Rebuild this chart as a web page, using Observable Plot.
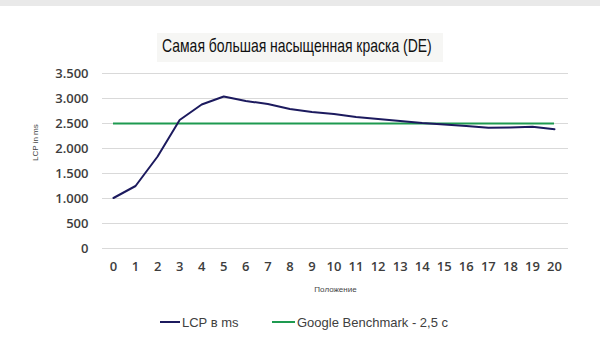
<!DOCTYPE html>
<html>
<head>
<meta charset="utf-8">
<script src="https://cdn.jsdelivr.net/npm/d3@7"></script>
<script src="https://cdn.jsdelivr.net/npm/@observablehq/plot@0.6"></script>
<style>
  html, body { margin: 0; padding: 0; background: #fff; }
  #wrap { position: relative; width: 600px; height: 357px; overflow: hidden; background: #fff; }
  #topband { position: absolute; left: 0; top: 0; width: 600px; height: 6px; background: #e9e9e9; }
  #title { position: absolute; left: 157px; top: 33px; width: 286px; height: 29px; background: #f6f6f4; pointer-events: none; }
  #title span { position: absolute; left: 5px; top: 2px; white-space: nowrap; font-family: "Liberation Sans", Arial, sans-serif; font-size: 19px; color: #111; transform: scaleX(0.735); transform-origin: 0 0; }
  #chart { position: absolute; left: 0; top: 0; }
  #legend { position: absolute; left: 0; top: 313px; width: 600px; font-family: "Liberation Sans", Arial, sans-serif; font-size: 13px; color: #404040; }
  .item { position: absolute; top: 0; white-space: nowrap; display: flex; align-items: center; height: 18px; }
  .sw { display: inline-block; height: 2px; margin-right: 2px; }
</style>
</head>
<body>
<div id="wrap">
  <div id="topband"></div>
  <div id="chart"></div>
  <div id="title"><span></span></div>
  <div id="legend"></div>
</div>
<script>
const chartTitle = "Самая большая насыщенная краска (DE)";
const xLabel = "Положение";
const yLabel = "LCP in ms";
const positions = [0,1,2,3,4,5,6,7,8,9,10,11,12,13,14,15,16,17,18,19,20];
const lcp = [1010,1250,1840,2570,2880,3040,2950,2890,2790,2730,2690,2630,2590,2550,2510,2480,2450,2415,2420,2435,2385];
const benchmark = 2500;
const yTicks = [0,500,1000,1500,2000,2500,3000,3500];
const seriesNames = ["LCP в ms", "Google Benchmark - 2,5 c"];
const seriesColors = ["#1c1a5e", "#1e9a50"];

document.querySelector("#title span").textContent = chartTitle;

const data = positions.map((p, i) => ({pos: p, lcp: lcp[i]}));
const loc = d3.formatLocale({thousands: ".", decimal: ",", grouping: [3], currency: ["", ""]});
const fmt = loc.format(",d");

const plot = Plot.plot({
  width: 600,
  height: 300,
  marginTop: 73,
  marginBottom: 52,
  marginLeft: 102,
  marginRight: 32,
  insetLeft: 11,
  insetRight: 14,
  style: {background: "transparent", fontFamily: "'Open Sans', sans-serif"},
  x: {domain: [positions[0], positions[positions.length - 1]], ticks: positions, tickFormat: d => String(d)},
  y: {domain: [0, 3500], ticks: yTicks, tickFormat: fmt},
  marks: [
    Plot.gridY(yTicks, {stroke: "#d9d9d9", strokeOpacity: 1, strokeWidth: 1.2}),
    Plot.axisY({ticks: yTicks, tickFormat: fmt, tickSize: 0, tickPadding: 14, fontSize: 13, fill: "#3d3d3d", fontWeight: 600, label: null}),
    Plot.axisX({ticks: positions, tickSize: 0, tickPadding: 13, fontSize: 13, fill: "#3d3d3d", fontWeight: 600, label: null}),
    Plot.text([xLabel], {frameAnchor: "bottom", dy: 43, text: d => d, fontSize: 8, fill: "#444", fontFamily: "'Liberation Sans', sans-serif"}),
    Plot.text([yLabel], {frameAnchor: "left", dx: -67, rotate: -90, text: d => d, fontSize: 8, fill: "#444", fontFamily: "'Liberation Sans', sans-serif"}),
    Plot.ruleY([benchmark], {x1: positions[0], x2: positions[positions.length - 1], stroke: seriesColors[1], strokeWidth: 2.2}),
    Plot.line(data, {x: "pos", y: "lcp", stroke: seriesColors[0], strokeWidth: 2, curve: "linear"})
  ]
});
document.getElementById("chart").appendChild(plot);

const legend = document.getElementById("legend");
const lx = [160, 272];
const sw = [20, 23];
seriesNames.forEach((n, i) => {
  const it = document.createElement("div");
  it.className = "item";
  it.style.left = lx[i] + "px";
  const s = document.createElement("span");
  s.className = "sw";
  s.style.width = sw[i] + "px";
  s.style.background = seriesColors[i];
  it.appendChild(s);
  const t = document.createElement("span");
  t.textContent = n;
  it.appendChild(t);
  legend.appendChild(it);
});
</script>
</body>
</html>
